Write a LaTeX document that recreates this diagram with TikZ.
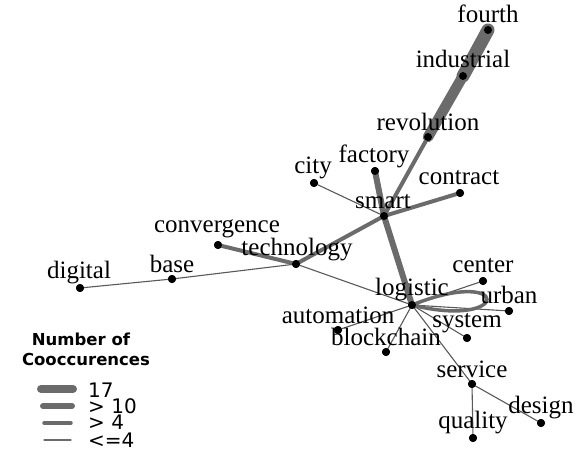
\documentclass[tikz,border=0pt]{standalone}
\usepackage{fontspec}
\setmainfont{Liberation Serif}
\newfontfamily\legfont{DejaVu Sans}
\begin{document}
\begin{tikzpicture}[x=1pt,y=-1pt,
  dot/.style={circle,fill=black,inner sep=0pt,minimum size=8pt},
  lbl/.style={anchor=base,inner sep=0pt,font=\fontsize{25}{25}\selectfont},
  edge/.style={draw=black!58,line cap=round},
  w1/.style={edge,line width=1.1pt,draw=black!65},
  w4/.style={edge,line width=4pt},
  w6/.style={edge,line width=6pt},
  w10/.style={edge,line width=10.5pt},
  w17/.style={edge,line width=13pt},
  legt/.style={anchor=base west,inner sep=0pt,font=\legfont\fontsize{20}{20}\selectfont},
  legh/.style={anchor=base,inner sep=0pt,font=\legfont\bfseries\fontsize{16.5}{16.5}\selectfont}]
\useasboundingbox (0,0) rectangle (582,452);
% dots (positions)
\node[dot] (fourth) at (488,30) {};
\node[dot] (industrial) at (463,76) {};
\node[dot] (revolution) at (428,137) {};
\node[dot] (factory) at (375,171) {};
\node[dot] (city) at (314,183) {};
\node[dot] (contract) at (460,193) {};
\node[dot] (smart) at (384,216) {};
\node[dot] (convergence) at (218,245) {};
\node[dot] (technology) at (296,264) {};
\node[dot] (base) at (172,279) {};
\node[dot] (digital) at (80,288) {};
\node[dot] (logistic) at (412,305) {};
\node[dot] (center) at (483,281) {};
\node[dot] (urban) at (509,311) {};
\node[dot] (system) at (467,338) {};
\node[dot] (automation) at (338,330) {};
\node[dot] (blockchain) at (386,352) {};
\node[dot] (service) at (472,384) {};
\node[dot] (design) at (541,423) {};
\node[dot] (quality) at (473,438) {};
% edges
\path[w17] (fourth.center) -- (industrial.center);
\path[w10] (industrial.center) -- (revolution.center);
\path[w4] (revolution.center) -- (smart.center);
\path[w6] (smart.center) -- (factory.center);
\path[w1] (smart.center) -- (city.center);
\path[w4] (smart.center) -- (contract.center);
\path[w4] (smart.center) -- (technology.center);
\path[w6] (smart.center) -- (logistic.center);
\path[w4] (technology.center) -- (convergence.center);
\path[w1] (technology.center) -- (base.center);
\path[w1] (base.center) -- (digital.center);
\path[w1] (technology.center) -- (logistic.center);
\path[w1] (logistic.center) -- (center.center);
\path[w1] (logistic.center) -- (urban.center);
\path[w1] (logistic.center) -- (system.center);
\path[w1] (logistic.center) -- (automation.center);
\path[w1] (logistic.center) -- (blockchain.center);
\path[w1] (logistic.center) -- (service.center);
\path[w1] (service.center) -- (design.center);
\path[w1] (service.center) -- (quality.center);
\path[edge,line width=3.5pt] (logistic.center) .. controls +(100,-40) and +(100,25) .. (logistic.center);
% redraw dots on top
\foreach \n in {fourth,industrial,revolution,factory,city,contract,smart,convergence,technology,base,digital,logistic,center,urban,system,automation,blockchain,service,design,quality}
  \fill (\n.center) circle (4pt);
% labels
\node[lbl] (fourth-l) at (488,23) {fourth};
\node[lbl] (industrial-l) at (463,68) {industrial};
\node[lbl] (revolution-l) at (428,131) {revolution};
\node[lbl] (factory-l) at (374,162) {factory};
\node[lbl] (city-l) at (313,174) {city};
\node[lbl] (contract-l) at (459,185) {contract};
\node[lbl] (smart-l) at (383,208) {smart};
\node[lbl] (convergence-l) at (217,233) {convergence};
\node[lbl] (technology-l) at (297,255) {technology};
\node[lbl] (base-l) at (172,272) {base};
\node[lbl] (digital-l) at (79,278) {digital};
\node[lbl] (logistic-l) at (412,295) {logistic};
\node[lbl] (center-l) at (483,272) {center};
\node[lbl] (urban-l) at (509,303) {urban};
\node[lbl] (system-l) at (467,327) {system};
\node[lbl] (automation-l) at (338,323) {automation};
\node[lbl] (blockchain-l) at (386,345) {blockchain};
\node[lbl] (service-l) at (472,377) {service};
\node[lbl] (design-l) at (541,413) {design};
\node[lbl] (quality-l) at (473,428) {quality};
% legend
\node[legh] (leg1) at (81,345) {Number of};
\node[legh] (leg2) at (86,365) {Cooccurences};
\coordinate (a1) at (41,389); \coordinate (b1) at (73,389);
\coordinate (a2) at (43,406); \coordinate (b2) at (72,406);
\coordinate (a3) at (44,423); \coordinate (b3) at (71,423);
\coordinate (a4) at (44,440); \coordinate (b4) at (71,440);
\path[edge,line width=8pt] (a1) -- (b1);
\path[edge,line width=6pt] (a2) -- (b2);
\path[edge,line width=3.5pt] (a3) -- (b3);
\path[edge,line width=1.1pt] (a4) -- (b4);
\node[legt] (l17) at (88,397) {17};
\node[legt] (l10) at (88,413) {> 10};
\node[legt] (l4) at (88,429) {> 4};
\node[legt] (l0) at (88,447) {<=4};
\end{tikzpicture}
\end{document}
